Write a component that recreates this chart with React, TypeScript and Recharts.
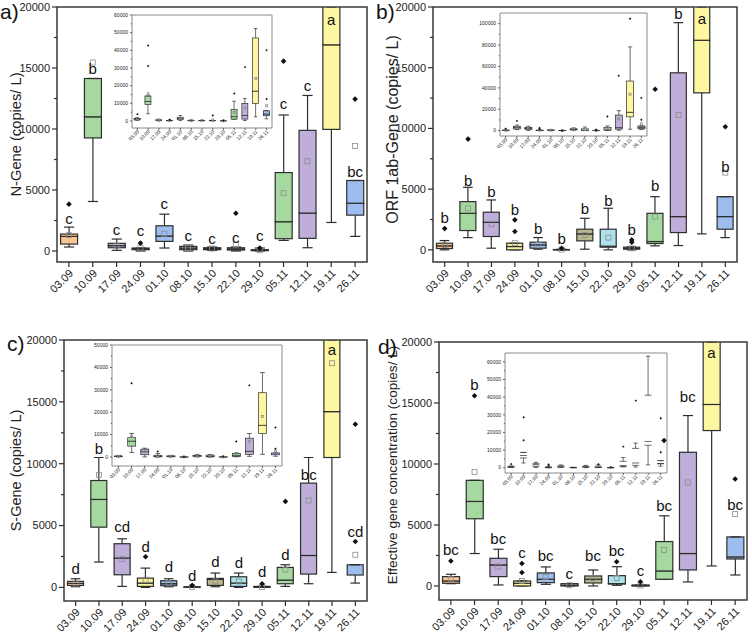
import React from "react";
import { ComposedChart, Bar, Line, XAxis, YAxis, ReferenceArea, Label } from "recharts";

const FONT = '"Liberation Sans", Arial, Helvetica, sans-serif';

const dates = ["03.09", "10.09", "17.09", "24.09", "01.10", "08.10", "15.10", "22.10", "29.10", "05.11", "12.11", "19.11", "26.11"];
const boxFills = ["#f8c491", "#a6d9a0", "#bfaed9", "#f9f39c", "#9dbdee", "#dcaee0", "#b9b88d", "#ade1ec", "#f0b7c8", "#a6d9a0", "#bfaed9", "#fcf7a0", "#9dbdee"];

// a) N-Gene
const nLo = [330, 4060, 55, 0, 245, 0, 55, 0, 0, 870, 270, 2340, 1200];
const nQ1 = [570, 9270, 270, 110, 790, 110, 110, 80, 25, 1010, 1040, 9970, 2940];
const nMed = [1200, 11000, 440, 160, 1230, 245, 190, 160, 55, 2400, 3110, 16900, 3920];
const nQ3 = [1390, 14140, 630, 245, 2070, 380, 270, 270, 110, 6430, 9890, 47000, 5780];
const nHi = [1960, 14140, 980, 245, 3020, 490, 330, 330, 245, 11150, 12750, 52300, 5780];
const nMean = [1300, 15450, 440, 270, 1420, 245, 200, 520, 60, 4740, 7360, 24000, 8600];
const nOut = [[3840], [42750, 31100], [], [650], [], [], [], [3100], [245], [15560], [30500], [], [12450, 40100]];
const nLetters = ["c", "b", "c", "c", "c", "c", "c", "c", "c", "c", "c", "a", "bc"];
const nLetterAt = [2210, 14500, 1340, 1250, 3460, 850, 570, 650, 850, 11630, 13130, 18500, 6100];

// b) ORF 1ab-Gene
const oLo = [0, 1010, 137, 0, 55, 0, 55, 0, 0, 330, 356, 1315, 1010];
const oQ1 = [110, 1590, 1100, 0, 137, 0, 740, 220, 55, 520, 1425, 12930, 1700];
const oMed = [330, 3010, 2270, 274, 410, 10, 1315, 300, 110, 685, 2740, 17260, 2740];
const oQ3 = [548, 3970, 3100, 548, 630, 27, 1700, 1700, 220, 3010, 14580, 46400, 4380];
const oHi = [767, 5150, 4110, 548, 1010, 55, 2600, 3425, 245, 4380, 18710, 78300, 4380];
const oMean = [410, 3420, 2140, 550, 410, 20, 1230, 1010, 120, 2740, 11100, 34000, 6360];
const oOut = [[1750], [9120], [], [1510, 2470], [], [137], [], [], [630, 820], [13230], [51400], [104600], [10140, 30600]];
const oLetters = ["b", "b", "b", "b", "b", "b", "b", "b", "b", "b", "b", "a", "b"];
const oLetterAt = [2250, 5290, 4380, 2880, 1290, 490, 2930, 3620, 1200, 4880, 19040, 18630, 6440];

// c) S-Gene
const sLo = [54, 2050, 80, 0, 54, 0, 54, 0, 0, 80, 296, 1210, 350];
const sQ1 = [160, 4870, 1020, 80, 135, 0, 160, 80, 0, 296, 1077, 10500, 1000];
const sMed = [323, 7110, 2370, 350, 296, 20, 646, 350, 30, 590, 2580, 14210, 1000];
const sQ3 = [485, 8640, 3530, 750, 540, 54, 727, 860, 80, 1615, 8430, 28700, 1830];
const sHi = [700, 10500, 3930, 1560, 700, 54, 1160, 1160, 80, 1830, 10500, 37700, 1830];
const sMean = [320, 9100, 2310, 620, 330, 30, 485, 485, 40, 1430, 7030, 18120, 2640];
const sOut = [[], [32900], [], [2480], [], [160], [], [], [296], [6950], [32000], [], [3710, 13190]];
const sLetters = ["d", "b", "cd", "d", "d", "d", "d", "d", "d", "d", "bc", "a", "cd"];
const sLetterAt = [1100, 10770, 4440, 2900, 1240, 540, 1640, 1560, 860, 2230, 8700, 18790, 4040];

// d) Effective gene concentration
const eLo = [190, 2660, 82, 0, 137, 0, 0, 55, 0, 550, 330, 1640, 900];
const eQ1 = [220, 5510, 767, 0, 274, 0, 245, 160, 0, 550, 1315, 12740, 2210];
const eMed = [410, 6930, 1726, 220, 550, 55, 550, 190, 30, 1230, 2660, 14880, 2380];
const eQ3 = [767, 8660, 2270, 410, 1070, 190, 820, 845, 82, 3640, 10960, 41100, 4020];
const eHi = [960, 8660, 3010, 410, 1560, 190, 1310, 1580, 82, 5750, 13970, 63200, 4020];
const eMean = [550, 9340, 1590, 410, 740, 60, 650, 650, 40, 2960, 8490, 24000, 5890];
const eOut = [[2050], [15590, 28600], [], [1100, 1840], [], [], [], [1990], [350], [11920], [38000], [], [8770, 28000]];
const eLetters = ["bc", "b", "bc", "c", "bc", "c", "bc", "bc", "c", "bc", "bc", "a", "bc"];
const eLetterAt = [2520, 16080, 3425, 2270, 2055, 600, 2055, 2470, 820, 6165, 15070, 18710, 6220];

const mainTicks = [0, 2500, 5000, 7500, 10000, 12500, 15000, 17500, 20000];
const insetTicks60 = [0, 5000, 10000, 15000, 20000, 25000, 30000, 35000, 40000, 45000, 50000, 55000, 60000];
const insetTicks100 = [0, 10000, 20000, 30000, 40000, 50000, 60000, 70000, 80000, 90000, 100000];
const insetTicks50 = [0, 5000, 10000, 15000, 20000, 25000, 30000, 35000, 40000, 45000, 50000];

type Row = {
  date: string;
  fill: string;
  base: number;
  wLow: number;
  bLow: number;
  bHigh: number;
  wHigh: number;
  mean: number;
  o1: number | null;
  o2: number | null;
  letter: string;
  letterAt: number;
};

function makeRows(
  lo: number[], q1: number[], med: number[], q3: number[], hi: number[],
  mean: number[], out: number[][], letters: string[], letterAt: number[]
): Row[] {
  return dates.map((date, i) => ({
    date,
    fill: boxFills[i],
    base: lo[i],
    wLow: q1[i] - lo[i],
    bLow: med[i] - q1[i],
    bHigh: q3[i] - med[i],
    wHigh: hi[i] - q3[i],
    mean: mean[i],
    o1: out[i][0] ?? null,
    o2: out[i][1] ?? null,
    letter: letters[i],
    letterAt: letterAt[i],
  }));
}

const nRows = makeRows(nLo, nQ1, nMed, nQ3, nHi, nMean, nOut, nLetters, nLetterAt);
const oRows = makeRows(oLo, oQ1, oMed, oQ3, oHi, oMean, oOut, oLetters, oLetterAt);
const sRows = makeRows(sLo, sQ1, sMed, sQ3, sHi, sMean, sOut, sLetters, sLetterAt);
const eRows = makeRows(eLo, eQ1, eMed, eQ3, eHi, eMean, eOut, eLetters, eLetterAt);

type Box4 = { l: number; t: number; r: number; b: number };

type ChartOpts = {
  rows: Row[];
  plot: Box4;
  pad: Box4;
  xAxisH: number;
  domain: [number, number];
  ticks: number[];
  major: number;
  yFont: number;
  xFont: number;
  tickLen: number;
  sw: number;
  gap: string;
  meanSize: number;
  outSize: number;
  frame: string;
  xLabelOff: [number, number];
  letterFont?: number;
  yLabel?: string;
  yLabelFont?: number;
  yLabelShift?: number;
  hollow?: boolean;
  showMean?: boolean;
};

const STROKE = "#2e2e2e";

function BoxChart(o: ChartOpts) {
  const left = o.plot.l - o.pad.l;
  const top = o.plot.t - o.pad.t;
  const width = o.plot.r - o.plot.l + o.pad.l + o.pad.r;
  const height = o.plot.b - o.plot.t + o.pad.t + o.pad.b;
  const capFrac = 0.6;

  const span = (p: any) => {
    const y0 = Math.min(p.y, p.y + p.height);
    const y1 = Math.max(p.y, p.y + p.height);
    return [y0, y1];
  };

  const whisker = (lower: boolean) => (p: any) => {
    if (p.x == null || p.y == null) return <g />;
    const [y0, y1] = span(p);
    const cx = p.x + p.width / 2;
    const c = (p.width * capFrac) / 2;
    const capY = lower ? y1 : y0;
    return (
      <g stroke={STROKE} strokeWidth={o.sw}>
        <line x1={cx} x2={cx} y1={y0} y2={y1} />
        <line x1={cx - c} x2={cx + c} y1={capY} y2={capY} />
      </g>
    );
  };

  const boxPart = (upper: boolean) => (p: any) => {
    if (p.x == null || p.y == null) return <g />;
    const [y0, y1] = span(p);
    if (o.hollow) {
      const ys = upper ? [y0] : [y0, y1];
      return (
        <g stroke={STROKE} strokeWidth={o.sw}>
          {ys.map((yy, i) => (
            <line key={i} x1={p.x} x2={p.x + p.width} y1={yy} y2={yy} />
          ))}
        </g>
      );
    }
    return (
      <rect x={p.x} y={y0} width={p.width} height={y1 - y0} fill={p.payload.fill} stroke={STROKE} strokeWidth={o.sw} />
    );
  };

  const meanDot = (p: any) => {
    const { cx, cy, index, value } = p;
    if (cx == null || cy == null || value == null) return <g key={`m${index}`} />;
    const s = o.meanSize;
    return (
      <rect key={`m${index}`} x={cx - s / 2} y={cy - s / 2} width={s} height={s} fill="none" stroke="#8c8c8c" strokeWidth={0.8} />
    );
  };

  const outDot = (p: any) => {
    const { cx, cy, index, value } = p;
    if (cx == null || cy == null || value == null) return <g key={`o${index}`} />;
    const s = o.outSize;
    return (
      <path key={`o${index}`} d={`M${cx},${cy - s}L${cx + s},${cy}L${cx},${cy + s}L${cx - s},${cy}Z`} fill="#111" />
    );
  };

  const letterDot = (p: any) => {
    const { cx, cy, index, payload } = p;
    if (cx == null || cy == null) return <g key={`l${index}`} />;
    return (
      <text key={`l${index}`} x={cx} y={cy} textAnchor="middle" fontSize={o.letterFont} fontFamily={FONT} fill="#111">
        {payload.letter}
      </text>
    );
  };

  const xTick = (p: any) => {
    const { x, y, payload } = p;
    return (
      <g>
        <line x1={x} x2={x} y1={y} y2={y + o.tickLen} stroke={STROKE} strokeWidth={o.sw} />
        <text
          transform={`translate(${x + o.xLabelOff[0]},${y + o.xLabelOff[1]}) rotate(-45)`}
          textAnchor="end"
          fontSize={o.xFont}
          fontFamily={FONT}
          fill="#222"
        >
          {payload.value}
        </text>
      </g>
    );
  };

  const yTick = (p: any) => {
    const { x, y, payload } = p;
    const isMajor = payload.value % o.major === 0;
    const len = isMajor ? o.tickLen : o.tickLen * 0.6;
    return (
      <g>
        <line x1={x} x2={x - len} y1={y} y2={y} stroke={STROKE} strokeWidth={o.sw} />
        {isMajor && (
          <text x={x - o.tickLen - 2} y={y} dy="0.35em" textAnchor="end" fontSize={o.yFont} fontFamily={FONT} fill="#222">
            {payload.value}
          </text>
        )}
      </g>
    );
  };

  const yTitle = (p: any) => {
    const vb = p.viewBox || {};
    const cx = (vb.x ?? 0) + 16;
    const cy = (vb.y ?? o.pad.t) + (vb.height ?? o.plot.b - o.plot.t) / 2 + (o.yLabelShift ?? 0);
    return (
      <text
        transform={`translate(${cx},${cy}) rotate(-90)`}
        dy="0.35em"
        textAnchor="middle"
        fontSize={o.yLabelFont}
        fontFamily={FONT}
        fill="#222"
      >
        {o.yLabel}
      </text>
    );
  };

  return (
    <div style={{ position: "absolute", left, top }}>
      <ComposedChart
        width={width}
        height={height}
        data={o.rows}
        margin={{ top: o.pad.t, right: o.pad.r, left: 0, bottom: o.pad.b - o.xAxisH }}
        barCategoryGap={o.gap}
      >
        <XAxis
          dataKey="date"
          interval={0}
          tickSize={0}
          tickMargin={0}
          axisLine={false}
          tickLine={false}
          height={o.xAxisH}
          tick={xTick}
        />
        <YAxis
          type="number"
          domain={o.domain}
          allowDataOverflow
          ticks={o.ticks}
          interval={0}
          width={o.pad.l}
          tickSize={0}
          tickMargin={0}
          axisLine={false}
          tickLine={false}
          tick={yTick}
        >
          {o.yLabel && <Label content={yTitle} />}
        </YAxis>
        <Bar dataKey="base" stackId="box" shape={() => <g />} isAnimationActive={false} />
        <Bar dataKey="wLow" stackId="box" shape={whisker(true)} isAnimationActive={false} />
        <Bar dataKey="bLow" stackId="box" shape={boxPart(false)} isAnimationActive={false} />
        <Bar dataKey="bHigh" stackId="box" shape={boxPart(true)} isAnimationActive={false} />
        <Bar dataKey="wHigh" stackId="box" shape={whisker(false)} isAnimationActive={false} />
        {o.showMean !== false && (
          <Line dataKey="mean" stroke="none" dot={meanDot} activeDot={false} isAnimationActive={false} />
        )}
        <Line dataKey="o1" stroke="none" dot={outDot} activeDot={false} isAnimationActive={false} />
        <Line dataKey="o2" stroke="none" dot={outDot} activeDot={false} isAnimationActive={false} />
        {o.letterFont && (
          <Line dataKey="letterAt" stroke="none" dot={letterDot} activeDot={false} isAnimationActive={false} />
        )}
        <ReferenceArea y1={o.domain[0]} y2={o.domain[1]} fill="none" stroke={o.frame} strokeWidth={o.sw + 0.3} ifOverflow="visible" />
      </ComposedChart>
    </div>
  );
}

const mainBase = {
  xAxisH: 34,
  ticks: mainTicks,
  major: 5000,
  yFont: 11,
  xFont: 11,
  tickLen: 5,
  sw: 1.2,
  gap: "15%",
  meanSize: 5,
  outSize: 2.8,
  frame: "#3a3a3a",
  xLabelOff: [5, 12] as [number, number],
  letterFont: 15,
};

const insetBase = {
  xAxisH: 20,
  major: 10000,
  yFont: 5,
  xFont: 5,
  tickLen: 2,
  sw: 0.7,
  gap: "20%",
  meanSize: 2,
  outSize: 1.2,
  frame: "#8a8a8a",
  xLabelOff: [2, 4] as [number, number],
};

function PanelTag({ text, x, y }: { text: string; x: number; y: number }) {
  return (
    <div style={{ position: "absolute", left: x, top: y, fontSize: 21, lineHeight: "24px", fontFamily: FONT, color: "#111" }}>
      {text}
    </div>
  );
}

export default function App() {
  return (
    <div style={{ position: "absolute", left: 0, top: 0, width: 752, height: 636, background: "#fff", overflow: "hidden" }}>
      <BoxChart
        {...mainBase}
        rows={nRows}
        plot={{ l: 57, t: 7, r: 367, b: 262 }}
        pad={{ l: 57, t: 7, r: 9, b: 56 }}
        domain={[-900, 20000]}
        yLabel="N-Gene (copies/ L)"
        yLabelFont={14.7}
      />
      <BoxChart
        {...mainBase}
        rows={oRows}
        plot={{ l: 433, t: 7, r: 737, b: 262 }}
        pad={{ l: 57, t: 7, r: 15, b: 56 }}
        domain={[-1000, 20000]}
        yLabel="ORF 1ab-Gene (copies/ L)"
        yLabelFont={16}
        yLabelShift={-5}
      />
      <BoxChart
        {...mainBase}
        rows={sRows}
        plot={{ l: 64, t: 340, r: 367, b: 601 }}
        pad={{ l: 64, t: 22, r: 9, b: 35 }}
        domain={[-1100, 20000]}
        yLabel="S-Gene (copies/ L)"
        yLabelFont={14.5}
      />
      <BoxChart
        {...mainBase}
        rows={eRows}
        plot={{ l: 439, t: 342, r: 747, b: 600 }}
        pad={{ l: 63, t: 24, r: 5, b: 36 }}
        domain={[-1150, 20000]}
        yLabel="Effective gene concentration (copies/ L)"
        yLabelFont={13.6}
        yLabelShift={-6}
      />

      <BoxChart
        {...insetBase}
        rows={nRows}
        plot={{ l: 132, t: 15, r: 272, b: 128 }}
        pad={{ l: 22, t: 4, r: 4, b: 24 }}
        domain={[-4000, 60000]}
        ticks={insetTicks60}
      />
      <BoxChart
        {...insetBase}
        rows={oRows}
        plot={{ l: 500, t: 13, r: 647, b: 136 }}
        pad={{ l: 24, t: 4, r: 4, b: 24 }}
        domain={[-5000, 110000]}
        ticks={insetTicks100}
        major={20000}
      />
      <BoxChart
        {...insetBase}
        rows={sRows}
        plot={{ l: 112, t: 345, r: 282, b: 466 }}
        pad={{ l: 22, t: 4, r: 4, b: 24 }}
        domain={[-4000, 50000]}
        ticks={insetTicks50}
      />
      <BoxChart
        {...insetBase}
        rows={eRows}
        plot={{ l: 505, t: 353, r: 667, b: 473 }}
        pad={{ l: 22, t: 4, r: 4, b: 24 }}
        domain={[-3000, 65000]}
        ticks={insetTicks60.filter((t) => t <= 65000)}
        hollow
        showMean={false}
      />

      <PanelTag text="a)" x={0} y={0} />
      <PanelTag text="b)" x={376} y={0} />
      <PanelTag text="c)" x={7} y={332} />
      <PanelTag text="d)" x={378} y={335} />
    </div>
  );
}
